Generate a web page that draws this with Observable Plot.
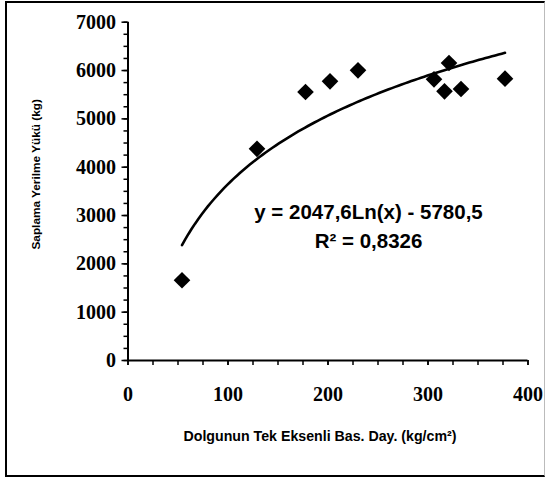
<!DOCTYPE html>
<html>
<head>
<meta charset="utf-8">
<script src="https://cdn.jsdelivr.net/npm/d3@7"></script>
<script src="https://cdn.jsdelivr.net/npm/@observablehq/plot@0.6"></script>
<style>
  html, body { margin: 0; padding: 0; background: #fff; }
  #wrap { position: relative; width: 545px; height: 477px; }
  #border { position: absolute; left: 5px; top: 1px; width: 537px; height: 472px;
            border-left: 2px solid #000; border-top: 2px solid #000; border-bottom: 2px solid #000;
            border-right: 1px solid #bbb; pointer-events: none; }
</style>
</head>
<body>
<div id="wrap"><div id="border"></div></div>
<script>
// Data
const strength = [54, 129, 177.5, 202, 230, 306, 321, 316.5, 333, 377];      // kg/cm²
const load     = [1660, 4380, 5555, 5776, 6004, 5818, 6155, 5569, 5617, 5832]; // kg
const xTickLabels = [0, 100, 200, 300, 400];
const yTickLabels = [0, 1000, 2000, 3000, 4000, 5000, 6000, 7000];
const trendCoefA = 2047.6;   // printed equation coefficients
const trendCoefB = -5780.5;
const eqText = ["y = 2047,6Ln(x) - 5780,5", "R² = 0,8326"];
const eqPos = {x: 240.5, y: [3060, 2470]};
const xTitle = "Dolgunun Tek Eksenli Bas. Day. (kg/cm²)";
const yTitle = "Saplama Yerilme Yükü (kg)";

const points = strength.map((s, i) => ({x: s, y: load[i]}));
const xMin = d3.min(strength), xMax = d3.max(strength);
const trend = d3.range(0, 101).map(i => {
  const x = xMin + (xMax - xMin) * i / 100;
  return {x, y: trendCoefA * Math.log(x) + trendCoefB};
});
const eqRows = eqText.map((t, i) => ({x: eqPos.x, y: eqPos.y[i], t}));

const serif = "'Liberation Serif', 'Times New Roman', serif";
const sans = "'Liberation Sans', Arial, sans-serif";

const chart = Plot.plot({
  width: 545,
  height: 477,
  marginLeft: 127.5,
  marginRight: 17.5,
  marginTop: 21.7,
  marginBottom: 117,
  x: {domain: [0, 400]},
  y: {domain: [0, 7000]},
  style: {background: "transparent", color: "#000"},
  marks: [
    // minor ticks
    Plot.axisX({ticks: d3.range(0, 401, 25), tickSize: 5, tickFormat: () => "", label: null, strokeWidth: 1.5}),
    Plot.axisY({ticks: d3.range(0, 7001, 250), tickSize: 4, tickFormat: () => "", label: null, strokeWidth: 1.5}),
    // major ticks + labels
    Plot.axisX({ticks: xTickLabels, tickSize: 5, tickPadding: 21, label: null, strokeWidth: 1.5,
      tickFormat: d => String(d), fontFamily: serif, fontSize: 20, fontWeight: "bold"}),
    Plot.axisY({ticks: yTickLabels, tickSize: 6, tickPadding: 6, label: null, strokeWidth: 1.5,
      tickFormat: d => String(d), fontFamily: serif, fontSize: 20, fontWeight: "bold"}),
    Plot.ruleX([0], {strokeWidth: 2}),
    Plot.ruleY([0], {strokeWidth: 2}),
    Plot.line(trend, {x: "x", y: "y", stroke: "#000", strokeWidth: 2.6}),
    Plot.dot(points, {x: "x", y: "y", symbol: "diamond2", r: 7.5, fill: "#000", stroke: "none"}),
    Plot.text(eqRows, {x: "x", y: "y", text: "t", fontFamily: sans, fontSize: 20.5, fontWeight: "bold", fill: "#000"}),
    Plot.text([xTitle], {frameAnchor: "bottom", textAnchor: "middle", dx: -8, dy: 76, fontFamily: sans, fontSize: 14.2, fontWeight: "bold", fill: "#000", lineAnchor: "middle"}),
    Plot.text([yTitle], {frameAnchor: "left", textAnchor: "middle", rotate: -90, dx: -92, dy: -17, fontFamily: sans, fontSize: 11.8, fontWeight: "bold", fill: "#000", lineAnchor: "middle"})
  ]
});
document.getElementById("wrap").prepend(chart);
</script>
</body>
</html>
